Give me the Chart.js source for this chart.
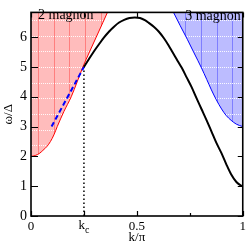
<!DOCTYPE html>
<html>
<head>
<meta charset="utf-8">
<script src="https://cdn.jsdelivr.net/npm/chart.js@4.4.1/dist/chart.umd.min.js"></script>
<style>
  html, body { margin: 0; padding: 0; background: #fff; }
  #wrap { width: 249px; height: 244px; }
</style>
</head>
<body>
<div id="wrap"><canvas id="dispChart"></canvas></div>
<script>
        const kc = 0.25;

        // one-magnon dispersion (k/pi, omega/Delta)
        const magnonK = [0.25, 0.276, 0.3, 0.322, 0.345, 0.369, 0.392, 0.416, 0.44, 0.465, 0.49, 0.515, 0.54, 0.556, 0.58, 0.603, 0.627, 0.65, 0.668, 0.688, 0.712, 0.735, 0.758, 0.78, 0.805, 0.83, 0.852, 0.875, 0.9, 0.922, 0.945, 0.97, 0.99, 1.0];
        const magnonW = [5.0, 5.29, 5.55, 5.77, 5.99, 6.19, 6.35, 6.49, 6.58, 6.64, 6.66, 6.64, 6.56, 6.48, 6.35, 6.19, 5.97, 5.72, 5.5, 5.26, 4.97, 4.65, 4.33, 3.98, 3.59, 3.2, 2.84, 2.46, 2.1, 1.74, 1.4, 1.14, 1.03, 1.0];

        // lower edge of the two-magnon continuum
        const twoK = [0, 0.02, 0.04, 0.056, 0.075, 0.092, 0.108, 0.124, 0.155, 0.19, 0.218, 0.245, 0.276, 0.308, 0.34, 0.361];
        const twoW = [2.0, 2.03, 2.1, 2.2, 2.33, 2.5, 2.72, 3.0, 3.5, 4.0, 4.5, 5.0, 5.5, 6.0, 6.5, 6.83];

        // lower edge of the three-magnon continuum
        const threeK = [0.673, 0.705, 0.738, 0.77, 0.805, 0.83, 0.852, 0.875, 0.9, 0.922, 0.945, 0.97, 1.0];
        const threeW = [6.83, 6.38, 5.93, 5.47, 4.97, 4.58, 4.23, 3.9, 3.59, 3.37, 3.21, 3.08, 3.0];

        // blue dashed guide and dotted k_c marker
        const dashK = [0.097, 0.25];
        const dashW = [3.0, 5.0];
        const dotK = [kc, kc];
        const dotW = [0, 5.0];

        const xTickVals = [0, kc, 0.5, 1];
        const xTickLabels = ['0', '', '0.5', '1'];
        const xMinorTicks = [0.75];
        const yTickVals = [0, 1, 2, 3, 4, 5, 6];
        const yMax = 6.83;

        const serif = '"Liberation Serif", "Times New Roman", serif';

        function pts(xs, ys) {
            return xs.map((x, i) => ({ x: x, y: ys[i] }));
        }

        // fill pattern: coloured strips with a darker edge and white dotted rows
        function makePattern(fill, edge) {
            const c = document.createElement('canvas');
            c.width = 47;
            c.height = 47;
            const g = c.getContext('2d');
            g.fillStyle = fill;
            g.fillRect(0, 0, 47, 47);
            g.fillStyle = edge;
            [0, 16, 31].forEach(x => g.fillRect(x, 0, 1, 47));
            g.fillStyle = 'rgba(255,255,255,0.9)';
            [0, 16, 31].forEach(y => {
                for (let x = 1; x < 47; x += 2) g.fillRect(x, y, 1, 1);
            });
            return g.createPattern(c, 'repeat');
        }

        const framePlugin = {
            id: 'frame',
            afterDraw(chart) {
                const c = chart.ctx;
                const a = chart.chartArea;
                const xs = chart.scales.x;
                const ys = chart.scales.y;
                c.save();
                c.strokeStyle = '#000';
                c.lineWidth = 1.2;
                c.beginPath();
                yTickVals.forEach(v => {
                    const p = Math.round(ys.getPixelForValue(v)) + 0.5;
                    c.moveTo(a.left, p); c.lineTo(a.left + 7, p);
                    c.moveTo(a.right, p); c.lineTo(a.right - 5, p);
                });
                xTickVals.forEach(v => {
                    const p = Math.round(xs.getPixelForValue(v)) + 0.5;
                    c.moveTo(p, a.bottom); c.lineTo(p, a.bottom - 5);
                    c.moveTo(p, a.top); c.lineTo(p, a.top + 5);
                });
                xMinorTicks.forEach(v => {
                    const p = Math.round(xs.getPixelForValue(v)) + 0.5;
                    c.moveTo(p, a.bottom); c.lineTo(p, a.bottom - 3);
                    c.moveTo(p, a.top); c.lineTo(p, a.top + 3);
                });
                c.stroke();
                c.lineWidth = 1.6;
                c.strokeRect(a.left, a.top, a.right - a.left, a.bottom - a.top);

                // region labels
                c.fillStyle = '#000';
                c.textBaseline = 'alphabetic';
                c.font = '14px ' + serif;
                c.textAlign = 'left';
                c.fillText('2 magnon', a.left + 7, 19);
                c.textAlign = 'right';
                c.fillText('3 magnon', a.right - 2, 20);

                // k_c tick label with subscript
                const kx = xs.getPixelForValue(kc);
                c.font = '13px ' + serif;
                c.textAlign = 'right';
                c.fillText('k', kx + 1, 229);
                c.font = '10px ' + serif;
                c.textAlign = 'left';
                c.fillText('c', kx + 1, 233);
                c.restore();
            }
        };

        function createChart() {
            const ctx = document.getElementById('dispChart').getContext('2d');
            const redPattern = makePattern('#ffbcbc', '#ff7f7f');
            const bluePattern = makePattern('#bcbcff', '#7f7fff');

            const patternPlugin = {
                id: 'patternAlign',
                beforeDatasetsDraw(chart) {
                    const y5 = chart.scales.y.getPixelForValue(5);
                    redPattern.setTransform(new DOMMatrix().translate(38, Math.round(y5)));
                    bluePattern.setTransform(new DOMMatrix().translate(201, Math.round(y5)));
                }
            };

            return new Chart(ctx, {
                type: 'scatter',
                data: {
                    datasets: [
                        {
                            label: 'magnon',
                            data: pts(magnonK, magnonW),
                            showLine: true,
                            borderColor: '#000',
                            borderWidth: 2,
                            pointRadius: 0,
                            cubicInterpolationMode: 'monotone',
                            fill: false
                        },
                        {
                            label: 'guide',
                            data: pts(dashK, dashW),
                            showLine: true,
                            borderColor: '#0000ff',
                            borderWidth: 2,
                            borderDash: [5, 3],
                            pointRadius: 0,
                            fill: false
                        },
                        {
                            label: 'kc',
                            data: pts(dotK, dotW),
                            showLine: true,
                            borderColor: '#000',
                            borderWidth: 1.5,
                            borderDash: [1.5, 2.5],
                            pointRadius: 0,
                            fill: false
                        },
                        {
                            label: '2 magnon',
                            data: pts(twoK, twoW),
                            showLine: true,
                            borderColor: '#ff0000',
                            borderWidth: 1,
                            backgroundColor: redPattern,
                            pointRadius: 0,
                            cubicInterpolationMode: 'monotone',
                            fill: 'end'
                        },
                        {
                            label: '3 magnon',
                            data: pts(threeK, threeW),
                            showLine: true,
                            borderColor: '#0000ff',
                            borderWidth: 1,
                            backgroundColor: bluePattern,
                            pointRadius: 0,
                            cubicInterpolationMode: 'monotone',
                            fill: 'end'
                        }
                    ]
                },
                options: {
                    responsive: true,
                    maintainAspectRatio: false,
                    animation: false,
                    layout: { padding: { top: 2, right: 4, left: 0, bottom: 0 } },
                    plugins: {
                        legend: { display: false },
                        tooltip: { enabled: false }
                    },
                    scales: {
                        x: {
                            type: 'linear',
                            min: 0,
                            max: 1,
                            afterBuildTicks: s => { s.ticks = xTickVals.map(v => ({ value: v })); },
                            afterFit: s => { s.height = 28; },
                            grid: { display: false, drawTicks: false },
                            border: { display: false },
                            ticks: {
                                color: '#000',
                                padding: 3,
                                maxRotation: 0,
                                autoSkip: false,
                                font: { family: serif, size: 13 },
                                callback: (v, i) => xTickLabels[i]
                            },
                            title: {
                                display: true,
                                text: 'k/π',
                                color: '#000',
                                padding: 0,
                                font: { family: serif, size: 13, lineHeight: 1 }
                            }
                        },
                        y: {
                            min: 0,
                            max: yMax,
                            afterBuildTicks: s => { s.ticks = yTickVals.map(v => ({ value: v })); },
                            afterFit: s => { s.width = 31; },
                            grid: { display: false, drawTicks: false },
                            border: { display: false },
                            ticks: {
                                color: '#000',
                                padding: 4,
                                font: { family: serif, size: 14 },
                                callback: v => String(v)
                            },
                            title: {
                                display: true,
                                text: 'ω/Δ',
                                color: '#000',
                                padding: { top: 1, bottom: 0 },
                                font: { family: serif, size: 13 }
                            }
                        }
                    }
                },
                plugins: [patternPlugin, framePlugin]
            });
        }

        let dispChart;
        document.fonts.load('13px "Liberation Serif"').then(() => {
            dispChart = createChart();
        }, () => {
            dispChart = createChart();
        });
</script>
</body>
</html>
